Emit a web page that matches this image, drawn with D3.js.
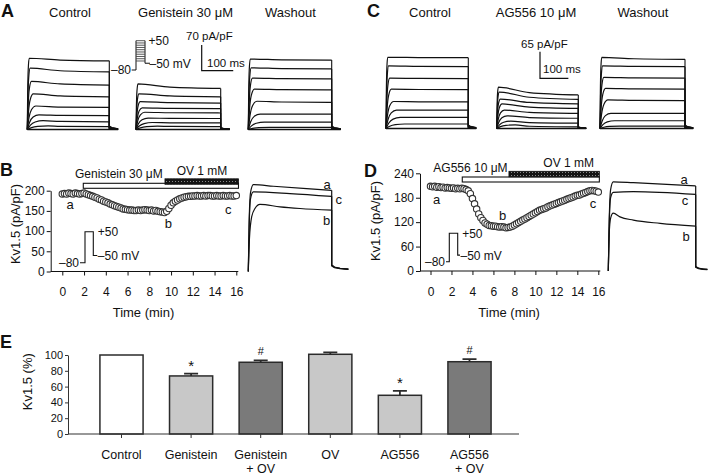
<!DOCTYPE html>
<html><head><meta charset="utf-8">
<script src="https://cdn.jsdelivr.net/npm/d3@7/dist/d3.min.js"></script>
<style>
body{margin:0;background:#fff;}
svg{display:block;font-family:"Liberation Sans",Arial,sans-serif;}
</style></head><body>
<svg id="c" width="709" height="475"></svg>
<script>
// ================= DATA =================
// Panel A: step currents (pA/pF), value at start of plateau / at end of pulse
const aControlStart = [194,167,131,97,64,40,24,10];
const aControlEnd   = [187,157,121,89,60,38,21,8];
const aGenStart     = [124,97,76,59,47,31,19,9];
const aGenEnd       = [112,89,72,57,45,30,18,8];
const aWashStart    = [192,168,140,110,77,42,20,6];
const aWashEnd      = [189,165,138,108,74,42,20,6];
// Panel C
const cControlStart = [174,153,123,96,66,45,27,11];
const cControlEnd   = [173,151,122,95,65,45,27,11];
const cAgStart      = [101,89,72,60,45,31,18,9];
const cAgEnd        = [82,71,60,49,37,25,13,4];
const cWashStart    = [174,153,125,98,70,37,19,6];
const cWashEnd      = [169,151,123,96,68,37,19,6];
const riseMs        = [6,9,13,19,27,37,50,66];
const stepVoltages  = [-40,-30,-20,-10,0,10,20,30,40,50];

// Panel B time course (pA/pF), one sample every 0.2 min from 0 to 16 min
const sampleStepMin = 0.2;
const bValues = [192,193,192,194,193,192,194,193,192,193,194,
  192,190,188,186,184,
  182,179,177,174,172,170,167,165,163,161,
  159,157,155,154,153,152,152,151,151,152,
  151,152,153,152,151,152,150,151,149,148,
  147,146,149,156,164,
  170,174,177,180,182,184,185,186,186,187,
  187,188,187,187,188,187,188,188,187,187,188,187,187,188,187,187,188,187,187,188];
// Panel D time course
const dValues = [208,207,208,206,207,205,206,204,205,204,203,204,202,203,202,203,
  202,200,197,190,178,165,152,140,131,124,
  118,115,112,111,110,110,109,108,109,108,
  106,107,108,110,113,116,119,122,125,128,
  131,134,137,140,143,146,149,151,153,155,
  158,160,162,164,166,168,170,172,174,176,
  178,180,182,184,186,187,189,191,193,195,
  197,198,197,196,194];
const timeTicks = [0,2,4,6,8,10,12,14,16];
const bYTicks = [0,50,100,150,200];
const dYTicks = [0,60,120,180,240];
// Drug application bars (min)
const bGenBar = [1.93,16.2], bOvBar = [9.44,16.2];
const dAgBar = [3.03,16.1], dOvBar = [7.48,16.1];
// Representative traces a, b, c: [ms, pA/pF] knots
const bTraceA = [[0,0],[3,120],[8,195],[18,215],[90,211],[210,205],[300,201]];
const bTraceC = [[0,0],[3,110],[8,180],[18,197],[150,193],[300,186]];
const bTraceB = [[0,0],[4,80],[12,135],[24,156],[42,166],[114,160],[186,156],[300,152]];
const dTraceA = [[0,0],[3,120],[8,200],[17,219],[86,217],[300,209]];
const dTraceC = [[0,0],[3,110],[8,180],[17,193],[86,195],[300,188]];
const dTraceB = [[0,0],[3,90],[8,130],[17,142],[40,133],[86,125],[178,117],[300,110]];
const bTail = [[300,16],[310,11],[330,8],[360,6]];
const dTail = [[300,11],[310,7],[325,5],[340,4]];

// Panel E
const eLabels = [["Control"],["Genistein"],["Genistein","+ OV"],["OV"],["AG556"],["AG556","+ OV"]];
const eValues = [100,73.5,90.8,100.9,49,91.5];
const eErrors = [0,2.8,2.5,2.5,5.5,3.4];
const eFills  = ["#ffffff","#c8c8c8","#7a7a7a","#c8c8c8","#c8c8c8","#7a7a7a"];
const eMarks  = ["","*","#","","*","#"];
const eYTicks = [0,20,40,60,80,100];

// ================= DRAW =================
const svg = d3.select("#c");
const ink = "#111";
const defs = svg.append("defs");
const pat = defs.append("pattern").attr("id","dots").attr("width",3).attr("height",3).attr("patternUnits","userSpaceOnUse");
pat.append("rect").attr("width",3).attr("height",3).attr("fill","#141414");
pat.append("rect").attr("x",1).attr("y",1).attr("width",1).attr("height",1).attr("fill","#8a8a8a");

function txt(x,y,s,size,opts={}){
  const t = svg.append("text").attr("x",x).attr("y",y).text(s)
    .attr("font-size",size).attr("fill",ink)
    .attr("text-anchor",opts.anchor||"start");
  if(opts.bold) t.attr("font-weight","bold");
  if(opts.rotate) t.attr("transform",`rotate(-90,${x},${y})`);
  return t;
}
// panel letters
txt(1,17,"A",18,{bold:true});
txt(367,17,"C",18,{bold:true});
txt(0,176,"B",18,{bold:true});
txt(364,177,"D",18,{bold:true});
txt(0,348,"E",18,{bold:true});

// ---------- step current families ----------
const lineMono = d3.line().curve(d3.curveMonotoneX);
function traceFamily(starts, ends, x0, x1, dur, yS){
  const x = d3.scaleLinear([0,dur],[x0,x1]);
  const g = svg.append("g").attr("fill","none").attr("stroke",ink).attr("stroke-width",1.2);
  g.append("path").attr("d",`M${x(0)},${yS(0)}H${x(dur+28)}`).attr("stroke-width",1.6);
  starts.forEach((s,i)=>{
    const e = ends[i], tr = riseMs[i];
    const pts = [[0,0],[tr*0.2,s*0.5],[tr*0.5,s*0.85],[tr,s],[dur*0.4,e+(s-e)*0.3],[dur,e]]
      .map(p=>[x(p[0]),yS(p[1])]);
    g.append("path").attr("d",lineMono(pts));
    const tail = [[dur,e],[dur,e*0.05],[dur+8,e*0.03],[dur+28,e*0.012]].map(p=>[x(p[0]),yS(p[1])]);
    g.append("path").attr("d",d3.line()(tail)).attr("stroke-width",1.1);
  });
  return x;
}
const yA = d3.scaleLinear([0,70],[129.5,103.8]);
const yC = d3.scaleLinear([0,65],[128.5,101.9]);
const xAc = traceFamily(aControlStart,aControlEnd,27.3,109.3,260,yA);
traceFamily(aGenStart,aGenEnd,136,220.7,260,yA);
traceFamily(aWashStart,aWashEnd,248.3,331.7,260,yA);
const xCc = traceFamily(cControlStart,cControlEnd,386,468.3,290,yC);
traceFamily(cAgStart,cAgEnd,496.7,578.3,290,yC);
traceFamily(cWashStart,cWashEnd,600,685,290,yC);

// headers
txt(70,17,"Control",13,{anchor:"middle"});
txt(185.5,17,"Genistein 30 \u03bcM",13,{anchor:"middle"});
txt(290.5,17,"Washout",13,{anchor:"middle"});
txt(430,17,"Control",13,{anchor:"middle"});
txt(536,17,"AG556 10 \u03bcM",13,{anchor:"middle"});
txt(643,17,"Washout",13,{anchor:"middle"});

// scale bars
function scaleBar(xv, yTop, yS, amp, xS, label, lx, ly, msx, msy){
  const h = yS(0)-yS(amp), w = xS(100)-xS(0);
  svg.append("path").attr("d",`M${xv},${yTop}V${yTop+h}H${xv+w}`).attr("fill","none").attr("stroke",ink).attr("stroke-width",1.2);
  txt(lx,ly,label,11.5);
  txt(msx,msy,"100 ms",11.5);
}
scaleBar(201.7,45,yA,70,xAc,"70 pA/pF",186,39.5,207,67);
scaleBar(540,51.7,yC,65,xCc,"65 pA/pF",521,47.5,543,73);

// voltage protocol inset A
const vA = d3.scaleLinear([-80,50],[70,40.7]);
const pg = svg.append("g").attr("stroke",ink).attr("fill","none").attr("stroke-width",1);
pg.append("path").attr("d",`M131.7,${vA(-80)}H136V${vA(50)}M145,${vA(50)}V${vA(-50)}H150`);
stepVoltages.forEach(v=>pg.append("path").attr("d",`M136,${vA(v)}H145`).attr("stroke","#444").attr("stroke-width",0.9));
txt(131,vA(-80)+4,"\u201380",12,{anchor:"end"});
txt(148.5,45,"+50",12);
txt(149.5,67.5,"\u201350 mV",12);

// ---------- time course panels ----------
function timeCourse(opt){
  const x = d3.scaleLinear([0,16],opt.xr);
  const y = d3.scaleLinear(opt.yd,opt.yr);
  const g = svg.append("g");
  const ya = g.append("g").attr("transform",`translate(${opt.axisX},0)`)
    .call(d3.axisLeft(y).tickValues(opt.yTicks).tickSize(4).tickPadding(2).tickSizeOuter(0));
  ya.select(".domain").attr("stroke",ink);
  const xa = g.append("g").attr("transform",`translate(0,${y(0)})`)
    .call(d3.axisBottom(x).tickValues(timeTicks).tickSize(4).tickPadding(12).tickSizeOuter(0));
  xa.select(".domain").remove();
  g.append("path").attr("d",`M${opt.axisX},${y(0)}H${x(16)+2}`).attr("stroke",ink);
  g.selectAll(".tick line").attr("stroke",ink);
  g.selectAll(".tick text").attr("font-size",12).attr("fill",ink).attr("font-family","Liberation Sans, Arial, sans-serif");
  txt((opt.axisX+x(16))/2,317,"Time (min)",13,{anchor:"middle"});
  txt(opt.ylabX+4.5,opt.ylabY,"Kv1.5 (pA/pF)",13,{anchor:"middle",rotate:true});
  g.append("rect").attr("x",x(opt.bar1[0])).attr("y",opt.bar1Y).attr("width",x(opt.bar1[1])-x(opt.bar1[0])).attr("height",5)
    .attr("fill","#fff").attr("stroke",ink).attr("stroke-width",1.1);
  g.append("rect").attr("x",x(opt.bar2[0])).attr("y",opt.bar2Y).attr("width",x(opt.bar2[1])-x(opt.bar2[0])).attr("height",5.5)
    .attr("fill","url(#dots)").attr("stroke",ink).attr("stroke-width",0.8);
  txt(opt.drugX,opt.drugY,opt.drug,12);
  txt(opt.ovX,opt.ovY,"OV 1 mM",12);
  g.append("g").selectAll("circle").data(opt.values).join("circle")
    .attr("cx",(d,i)=>x(i*sampleStepMin)).attr("cy",d=>y(d)).attr("r",3.2)
    .attr("fill","#fff").attr("stroke","#333").attr("stroke-width",1.1);
  opt.labels.forEach(l=>txt(l[0],l[1],l[2],13,{anchor:"middle"}));
  const v = d3.scaleLinear([-80,50],opt.vr);
  g.append("path").attr("d",`M${opt.px[0]},${v(-80)}H${opt.px[1]}V${v(50)}H${opt.px[2]}V${v(-50)}H${opt.px[3]}`)
    .attr("fill","none").attr("stroke",ink).attr("stroke-width",1.1);
  txt(opt.px[0]-1,v(-80)+4,"\u201380",12,{anchor:"end"});
  txt(opt.px[2]+4.5,v(50)+4.5,"+50",12);
  txt(opt.px[3]+0.5,v(-50)+4.5,"\u201350 mV",12);
  return y;
}
const yB = timeCourse({xr:[62.3,236.3],yd:[0,200],yr:[271.5,190.7],axisX:50.7,yTicks:bYTicks,
  ylabX:15,ylabY:224,bar1:bGenBar,bar1Y:183.3,bar2:bOvBar,bar2Y:178.8,drug:"Genistein 30 \u03bcM",drugX:75,drugY:178,
  ovX:176.7,ovY:174.5,values:bValues,labels:[[70,209,"a"],[168.3,227.5,"b"],[228.3,213.5,"c"]],
  vr:[262.7,231.7],px:[80,85,93.3,97.3]});
const yD = timeCourse({xr:[430.5,598.3],yd:[0,240],yr:[271,173.3],axisX:420,yTicks:dYTicks,
  ylabX:375,ylabY:221,bar1:dAgBar,bar1Y:177,bar2:dOvBar,bar2Y:171.3,drug:"AG556 10 \u03bcM",drugX:433.3,drugY:172,
  ovX:543.3,ovY:166.5,values:dValues,labels:[[436.7,204,"a"],[502.7,220,"b"],[593,207.5,"c"]],
  vr:[261.7,233.3],px:[446,449.3,457.7,460]});

// representative traces
function repTraces(traces, tails, x0, x1, yS, labels){
  const x = d3.scaleLinear([0,300],[x0,x1]);
  const g = svg.append("g").attr("fill","none").attr("stroke",ink).attr("stroke-width",1.2);
  traces.forEach((tr,i)=>{
    g.append("path").attr("d",lineMono(tr.map(p=>[x(p[0]),yS(p[1])])));
    const last = tr[tr.length-1];
    g.append("path").attr("d",d3.line()([[x(last[0]),yS(last[1])]].concat(tails[i].map(p=>[x(p[0]),yS(p[1])]))));
  });
  labels.forEach(l=>txt(l[0],l[1],l[2],13,{anchor:"middle"}));
}
repTraces([bTraceA,bTraceC,bTraceB],[bTail,bTail.map(p=>[p[0],p[1]*0.95]),bTail.map(p=>[p[0],p[1]*0.85])],248.3,331.7,yB,
  [[327,189,"a"],[338.7,203.5,"c"],[326.7,224.5,"b"]]);
repTraces([dTraceA,dTraceC,dTraceB],[dTail,dTail.map(p=>[p[0],p[1]*0.95]),dTail.map(p=>[p[0],p[1]*0.8])],608.3,695.7,yD,
  [[684,183.5,"a"],[685,205,"c"],[686,240.5,"b"]]);

// ---------- Panel E ----------
const xE = d3.scaleBand().domain(d3.range(eValues.length)).range([86.7,504.3]).paddingInner(0.38).paddingOuter(0.19);
const yE = d3.scaleLinear([0,100],[434,355]);
const ge = svg.append("g");
const yaE = ge.append("g").attr("transform","translate(68,0)")
  .call(d3.axisLeft(yE).tickValues(eYTicks).tickSize(3).tickPadding(2).tickSizeOuter(0));
yaE.selectAll("text").attr("font-size",11).attr("fill",ink).attr("font-family","Liberation Sans, Arial, sans-serif");
yaE.selectAll("line,.domain").attr("stroke","#333");
txt(32.5,381.7,"Kv1.5 (%)",13,{anchor:"middle",rotate:true});
ge.append("g").selectAll("rect").data(eValues).join("rect")
  .attr("x",(d,i)=>xE(i)).attr("y",d=>yE(d)).attr("width",xE.bandwidth()).attr("height",d=>yE(0)-yE(d))
  .attr("fill",(d,i)=>eFills[i]).attr("stroke","#2b2b2b").attr("stroke-width",1.5);
eValues.forEach((v,i)=>{
  const cx = xE(i)+xE.bandwidth()/2;
  if(eErrors[i]>0){
    ge.append("path").attr("d",`M${cx},${yE(v)}V${yE(v+eErrors[i])}M${cx-7},${yE(v+eErrors[i])}H${cx+7}`)
      .attr("stroke","#2b2b2b").attr("stroke-width",1.8).attr("fill","none");
  }
  if(eMarks[i]){
    const top = yE(v+eErrors[i]);
    if(eMarks[i]==="*") txt(cx,top-3,"*",15,{anchor:"middle"});
    else txt(cx,top-5,"#",11,{anchor:"middle"});
  }
  ge.append("path").attr("d",`M${cx},434V438`).attr("stroke","#333");
  eLabels[i].forEach((s,k)=>txt(cx,459+k*14,s,12.5,{anchor:"middle"}));
});
ge.append("path").attr("d","M68,434H519").attr("stroke","#333").attr("stroke-width",1.2);
</script>
</body></html>
